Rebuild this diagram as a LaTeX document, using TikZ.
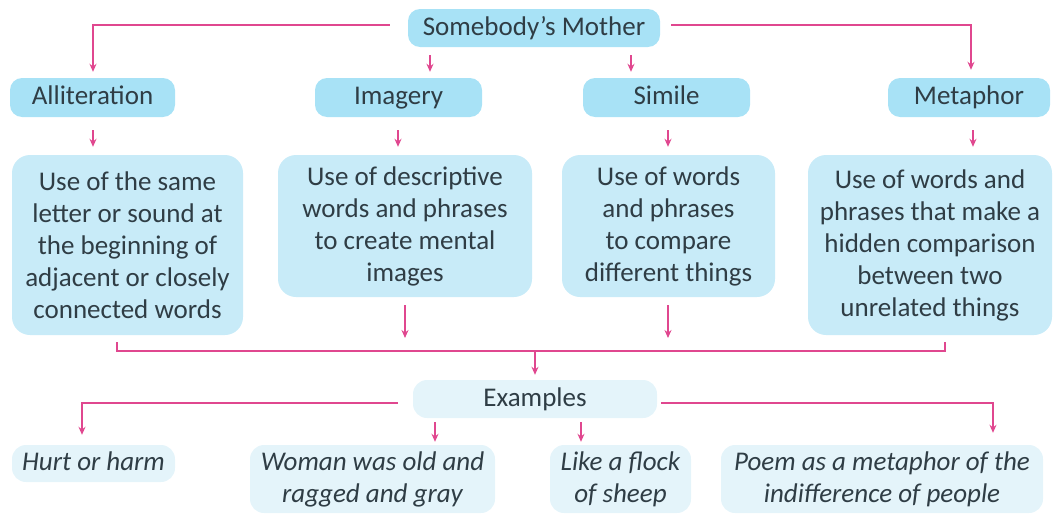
\documentclass[tikz,border=0pt]{standalone}
\usepackage{fontspec}
\setmainfont{Carlito}
\usetikzlibrary{arrows.meta}
\definecolor{pk}{HTML}{E0478F}
\definecolor{topc}{HTML}{A8E2F6}
\definecolor{descc}{HTML}{C8EBF8}
\definecolor{exc}{HTML}{E4F4FA}
\definecolor{txt}{HTML}{2F3D45}
\tikzset{
  base/.style={rounded corners=12pt, inner sep=0pt, align=center, text=txt, font=\fontsize{27}{32}\selectfont},
  single/.style={text height=19pt, text depth=5pt},
  topbox/.style={base, single, fill=topc},
  descbox/.style={base, fill=descc, rounded corners=18pt},
  exbox/.style={base, single, fill=exc, rounded corners=14pt},
  exitem/.style={base, fill=exc, rounded corners=14pt, font=\fontsize{27}{32}\selectfont\itshape},
  conn/.style={draw=pk, line width=1.5pt},
  arr/.style={conn, -{Stealth[length=8pt,width=7pt]}},
}
\begin{document}
\begin{tikzpicture}[x=1pt,y=1pt]
\useasboundingbox (0,0) rectangle (1058,-514);
% top level
\node[topbox, minimum width=252pt, minimum height=38pt] (smom) at (534,-28) {Somebody’s Mother};
\node[topbox, minimum width=165pt, minimum height=39pt] (allit) at (92.5,-97.5) {Alliteration};
\node[topbox, minimum width=167pt, minimum height=39pt] (imag) at (398.5,-97.5) {Imagery};
\node[topbox, minimum width=167pt, minimum height=39pt] (simi) at (666.5,-97.5) {Simile};
\node[topbox, minimum width=162pt, minimum height=39pt] (meta) at (969,-97.5) {Metaphor};
% descriptions
\node[descbox, minimum width=231pt, minimum height=180pt] (dall) at (127.5,-245) {Use of the same\\letter or sound at\\the beginning of\\adjacent or closely\\connected words};
\node[descbox, minimum width=254pt, minimum height=142pt] (dimg) at (405,-226) {Use of descriptive\\words and phrases\\to create mental\\images};
\node[descbox, minimum width=213pt, minimum height=142pt] (dsim) at (668.5,-226) {Use of words\\and phrases\\to compare\\different things};
\node[descbox, minimum width=244pt, minimum height=180pt] (dmet) at (930,-245) {Use of words and\\phrases that make a\\hidden comparison\\between two\\unrelated things};
% examples
\node[exbox, minimum width=244pt, minimum height=38pt] (ex) at (535,-399) {Examples};
\node[exitem, single, minimum width=163pt, minimum height=37pt] (e1) at (93.5,-463.5) {Hurt or harm};
\node[exitem, minimum width=245pt, minimum height=68pt] (e2) at (372.5,-479) {Woman was old and\\ragged and gray};
\node[exitem, minimum width=141pt, minimum height=68pt] (e3) at (620.5,-479) {Like a flock\\of sheep};
\node[exitem, minimum width=322pt, minimum height=68pt] (e4) at (882,-479) {Poem as a metaphor of the\\indifference of people};
% helper coordinates
\coordinate (xa) at (93,0);
\coordinate (xb) at (430,0);
\coordinate (xc) at (631,0);
\coordinate (xd) at (971,0);
\coordinate (xe) at (398,0);
\coordinate (xf) at (668,0);
\coordinate (xg) at (973,0);
\coordinate (xh) at (117,0);
\coordinate (xi) at (945,0);
\coordinate (xj) at (405,0);
\coordinate (bus) at (535,-351);
\coordinate (xk) at (82,0);
\coordinate (xl) at (993,0);
\coordinate (xm) at (435,0);
\coordinate (xn) at (581,0);
% top connectors
\draw[arr, shorten <=18pt, shorten >=6pt] ([yshift=3pt]smom.west) -| (allit.north -| xa);
\draw[arr, shorten <=11pt, shorten >=8pt] ([yshift=3pt]smom.east) -| (meta.north -| xd);
\draw[arr, shorten <=8pt, shorten >=6pt] (smom.south -| xb) -- (imag.north -| xb);
\draw[arr, shorten <=8pt, shorten >=6pt] (smom.south -| xc) -- (simi.north -| xc);
% to descriptions
\draw[arr, shorten <=13pt, shorten >=8pt] (allit.south -| xa) -- (dall.north -| xa);
\draw[arr, shorten <=13pt, shorten >=8pt] (imag.south -| xe) -- (dimg.north -| xe);
\draw[arr, shorten <=13pt, shorten >=8pt] (simi.south -| xf) -- (dsim.north -| xf);
\draw[arr, shorten <=13pt, shorten >=8pt] (meta.south -| xg) -- (dmet.north -| xg);
% bus
\draw[conn] ([yshift=-7pt]dall.south -| xh) |- (bus) -| ([yshift=-7pt]dmet.south -| xi);
\draw[arr, shorten <=8pt, shorten >=13pt] (dimg.south -| xj) -- (bus -| xj);
\draw[arr, shorten <=8pt, shorten >=13pt] (dsim.south -| xf) -- (bus -| xf);
\draw[arr, shorten >=5pt] (bus) -- (ex.north);
% examples connectors
\draw[arr, shorten <=15pt, shorten >=10pt] ([yshift=-4pt]ex.west) -| (e1.north -| xk);
\draw[arr, shorten <=4pt, shorten >=12pt] ([yshift=-4pt]ex.east) -| (e4.north -| xl);
\draw[arr, shorten <=4pt, shorten >=3pt] (ex.south -| xm) -- (e2.north -| xm);
\draw[arr, shorten <=4pt, shorten >=3pt] (ex.south -| xn) -- (e3.north -| xn);
\end{tikzpicture}
\end{document}
